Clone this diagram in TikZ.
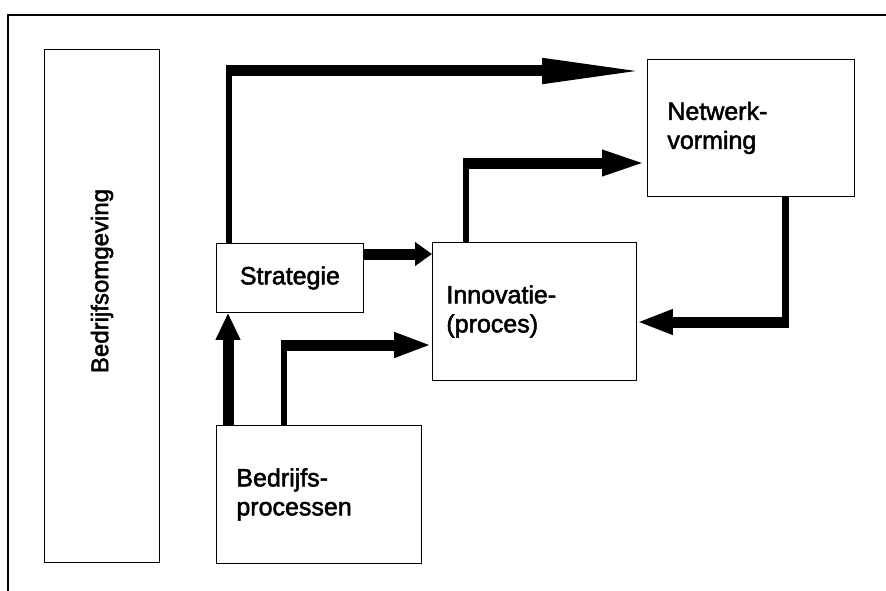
\documentclass[tikz,border=0pt]{standalone}
\usepackage{fontspec}
\setmainfont{Liberation Sans}
\newfontfamily\diafont{Liberation Sans}[FakeBold=2]
\usetikzlibrary{arrows.meta}
\tikzset{
  txt/.style={font=\diafont\fontsize{25}{29}\selectfont},
  box/.style={draw, line width=0.8pt, txt},
  vline/.style={line width=6pt},
  hline/.style={line width=11pt},
  flow/.style={-{Triangle[length=#1,width=23pt]}},
}
\begin{document}
\begin{tikzpicture}[x=1pt,y=-1pt]
\useasboundingbox (0,0) rectangle (886,591);
\clip (0,0) rectangle (886,591);
\draw[line width=2pt] (8,600) -- (8,15) -- (900,15);
% boxes
\node[box, anchor=north west, minimum width=115, minimum height=513] (omg) at (44,49) {};
\node[txt, font=\diafont\fontsize{24}{28}\selectfont, rotate=90] (omgtext) at (102,281) {Bedrijfsomgeving};
\node[box, anchor=north west, minimum width=147, minimum height=69] (strat) at (216,243) {Strategie};
\node[box, anchor=north west, minimum height=138, inner xsep=14pt, text width=176pt, align=left] (innov) at (432,242) {Innovatie-\\(proces)};
\node[box, anchor=north west, minimum height=137, inner xsep=20pt, text width=167pt, align=left] (netw) at (647,59) {Netwerk-\\vorming};
\node[box, anchor=north west, minimum height=138, inner xsep=20pt, text width=165pt, align=left] (proc) at (216,425) {Bedrijfs-\\processen};
% bends of the arrows
\coordinate (c1) at (229,71);
\coordinate (c2) at (466,163);
\coordinate (c3) at (0,254);
\coordinate (c4) at (228,0);
\coordinate (c5) at (284,345);
\coordinate (c6) at (785,322);
% arrows
\draw[vline] (strat.north -| c1) -- ([yshift=5.5pt]c1);
\draw[hline, flow=105pt] ([xshift=-3pt]c1) -- (c1 -| netw.west);
\draw[vline] (innov.north -| c2) -- ([yshift=5.5pt]c2);
\draw[hline, flow=45pt] ([xshift=-3pt]c2) -- (c2 -| netw.west);
\draw[hline, flow=17pt] (strat.east |- c3) -- (innov.west |- c3);
\draw[hline, flow=27pt] (proc.north -| c4) -- (strat.south -| c4);
\draw[vline] (proc.north -| c5) -- ([yshift=5.5pt]c5);
\draw[hline, flow=38pt] ([xshift=-3pt]c5) -- (c5 -| innov.west);
\draw[line width=7pt] (netw.south -| c6) -- ([yshift=-5.5pt]c6);
\draw[hline, flow=36pt] ([xshift=3.5pt]c6) -- (c6 -| innov.east);
\end{tikzpicture}
\end{document}
